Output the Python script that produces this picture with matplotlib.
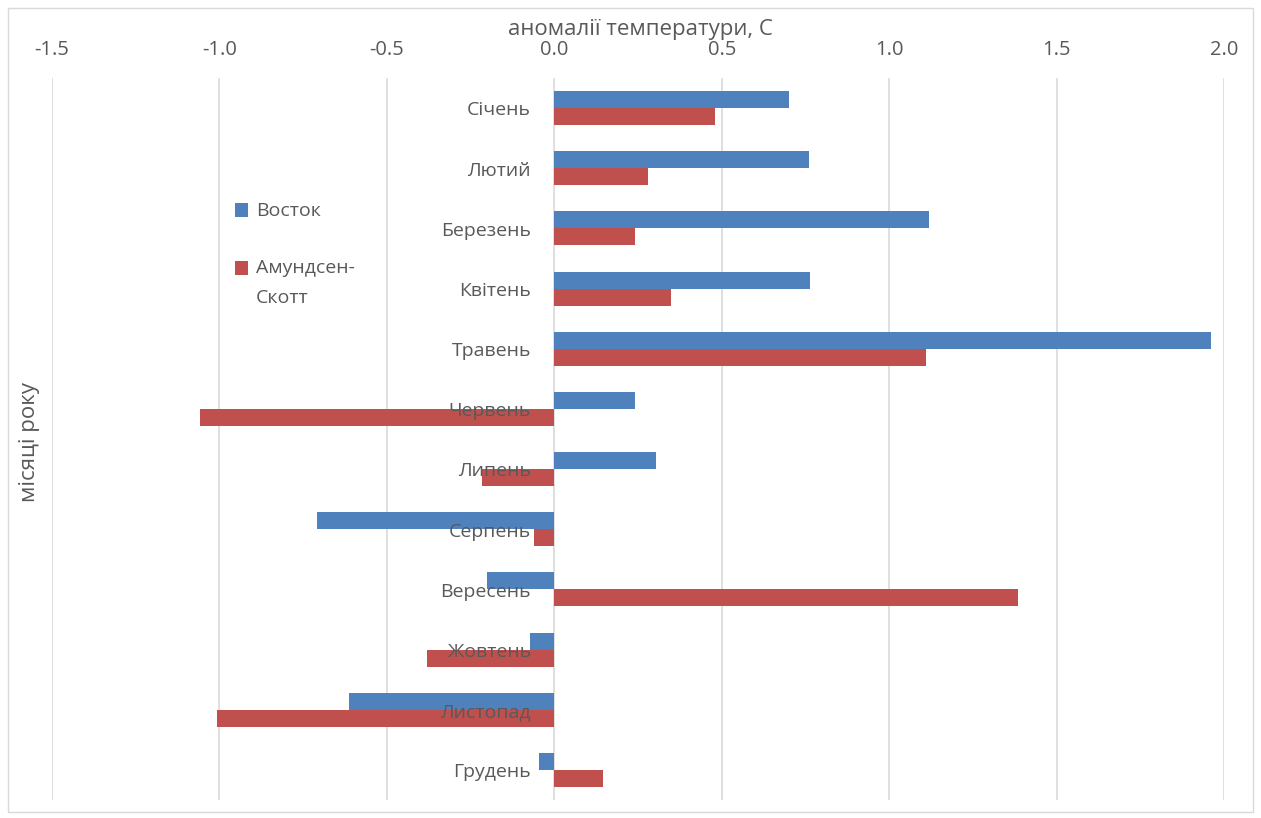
import matplotlib.pyplot as plt
import numpy as np
from matplotlib.patches import Rectangle
from matplotlib.legend_handler import HandlerPatch, update_from_first_child

plt.rcParams['font.family'] = ['Open Sans', 'DejaVu Sans']

months = ["Січень", "Лютий", "Березень", "Квітень", "Травень", "Червень",
          "Липень", "Серпень", "Вересень", "Жовтень", "Листопад", "Грудень"]
vostok = [0.70, 0.76, 1.12, 0.765, 1.96, 0.24, 0.305, -0.708, -0.20, -0.072, -0.612, -0.045]
amundsen = [0.48, 0.28, 0.24, 0.35, 1.11, -1.057, -0.215, -0.06, 1.385, -0.38, -1.006, 0.146]
xticks = [-1.5, -1.0, -0.5, 0.0, 0.5, 1.0, 1.5, 2.0]

blue = "#4F81BD"
red = "#C0504D"
txt = "#595959"

fig = plt.figure(figsize=(12.61, 8.18), dpi=100)
ax = fig.add_axes([52 / 1261, 1 - 800 / 818, (1224 - 52) / 1261, (800 - 78) / 818])

y = np.arange(len(months))
h = 0.283
b1 = ax.barh(y - h / 2, vostok, height=h, color=blue, label="Восток", zorder=2)
b2 = ax.barh(y + h / 2, amundsen, height=h, color=red, label="Амундсен-\nСкотт", zorder=2)

ax.set_xlim(-1.5, 2.0)
ax.set_ylim(len(months) - 0.5, -0.5)
ax.set_xticks(xticks)
ax.set_xticklabels([f"{v:.1f}" for v in xticks])
ax.xaxis.tick_top()
ax.tick_params(axis='x', length=0, labelsize=14.5, colors=txt, pad=13)
ax.set_yticks([])
ax.grid(axis='x', color="#d9d9d9", linewidth=1.2, zorder=0)
for s in ax.spines.values():
    s.set_visible(False)

# month labels sit next to zero, drawn over the bars
for i, m in enumerate(months):
    ax.text(-0.07, i + 0.04, m, ha='right', va='center', fontsize=14, color=txt, zorder=3)

fig.text(640 / 1261, 1 - 30 / 818, "аномалії температури, С", ha='center', va='center',
         fontsize=16, color=txt)
fig.text(30 / 1261, 1 - 442 / 818, "місяці року", ha='center', va='center',
         rotation=90, fontsize=16, color=txt)


# legend marker for the two-line label sits beside the first line
def top_patch(legend, orig_handle, xdescent, ydescent, width, height, fontsize):
    return Rectangle((-xdescent, -ydescent + 11), width, height)


leg = ax.legend(loc='upper left', bbox_to_anchor=(165 / 1172, 1 - 107 / 722), frameon=False,
                fontsize=14, handlelength=0.7, handleheight=0.7, handletextpad=0.4,
                labelspacing=2.0, labelcolor=txt,
                handler_map={b2: HandlerPatch(patch_func=top_patch,
                                              update_func=update_from_first_child)})
for t in leg.get_texts():
    t.set_linespacing(1.85)

fig.patches.append(Rectangle((8 / 1261, 1 - 812 / 818), 1245 / 1261, 804 / 818,
                             transform=fig.transFigure, fill=False, edgecolor="#d9d9d9",
                             linewidth=1))

fig.savefig("out.png", dpi=100)
